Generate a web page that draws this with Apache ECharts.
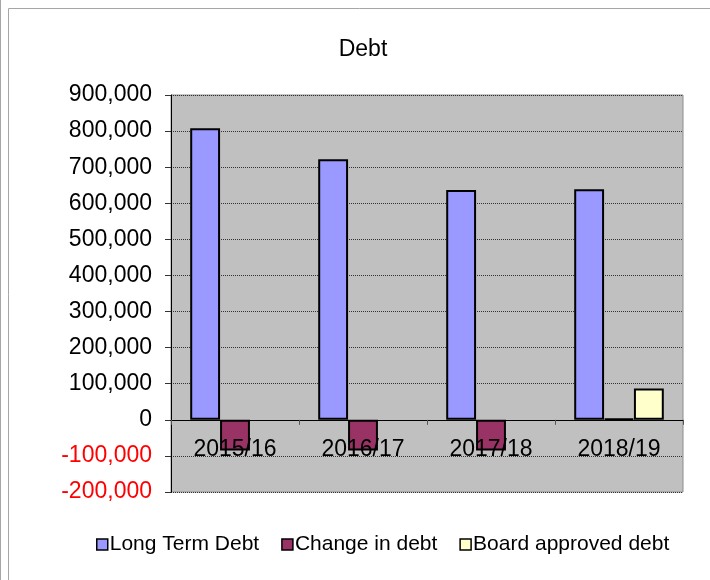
<!DOCTYPE html>
<html>
<head>
<meta charset="utf-8">
<script src="https://cdn.jsdelivr.net/npm/echarts@6/dist/echarts.min.js"></script>
<style>
  html, body { margin: 0; padding: 0; background: #fff; }
  #main { width: 710px; height: 580px; }
</style>
</head>
<body>
<div id="main"></div>
<script>
// data
var years = ['2015/16', '2016/17', '2017/18', '2018/19'];
var longTermDebt = [808000, 722000, 637000, 639000];
var changeInDebt = [-85000, -85000, -85000, 3000];
var boardApproved = [null, null, null, 87000];

var font = '"Liberation Sans", Arial, sans-serif';

var myChart = echarts.init(document.getElementById('main'));

var option = {
    backgroundColor: '#fff',
    animation: false,
    graphic: [
        {
            type: 'rect',
            shape: { x: 8.5, y: 8.5, width: 760, height: 640 },
            style: { fill: 'none', stroke: '#a6a6a6', lineWidth: 1 }
        },
        {
            type: 'line',
            shape: { x1: 0.5, y1: 0, x2: 0.5, y2: 580 },
            style: { stroke: '#a6a6a6', lineWidth: 1 }
        }
    ],
    title: {
        text: 'Debt',
        left: 358,
        top: 33,
        textAlign: 'center',
        textStyle: { fontFamily: font, fontSize: 23, fontWeight: 'normal', color: '#000' }
    },
    legend: {
        bottom: 20,
        left: 91,
        icon: 'rect',
        itemWidth: 11,
        itemHeight: 11,
        itemGap: 22,
        itemStyle: { borderColor: '#000', borderWidth: 1.5 },
        textStyle: { fontFamily: font, fontSize: 21, color: '#000', padding: [0, 0, 0, -3] },
        data: ['Long Term Debt', 'Change in debt', 'Board approved debt']
    },
    grid: {
        left: 171,
        right: 27,
        top: 95,
        bottom: 88,
        show: true,
        backgroundColor: '#c0c0c0',
        borderColor: '#8c8c8c',
        borderWidth: 1
    },
    xAxis: {
        type: 'category',
        data: years,
        z: 10,
        axisLine: { onZero: true, lineStyle: { color: '#000', width: 1 } },
        axisTick: { show: true, length: 5, lineStyle: { color: '#555' } },
        axisLabel: { fontFamily: font, fontSize: 23, color: '#000', margin: -54 },
        splitLine: { show: false }
    },
    yAxis: {
        type: 'value',
        min: -200000,
        max: 900000,
        interval: 100000,
        axisLine: { show: true, lineStyle: { color: '#000', width: 1 } },
        axisTick: { show: true, length: 6, lineStyle: { color: '#333' } },
        axisLabel: {
            fontFamily: font,
            fontSize: 23,
            margin: 19,
            color: function (v) {
                return Number(v) < 0 ? '#ff0000' : '#000';
            },
            formatter: function (v) {
                return v.toLocaleString('en-US');
            }
        },
        splitLine: { show: true, lineStyle: { color: '#333', type: 'dotted', width: 1 } }
    },
    series: [
        {
            name: 'Long Term Debt',
            type: 'bar',
            data: longTermDebt,
            barGap: '0%',
            barCategoryGap: '30%',
            itemStyle: { color: '#9999ff', borderColor: '#000', borderWidth: 2 }
        },
        {
            name: 'Change in debt',
            type: 'bar',
            data: changeInDebt,
            itemStyle: { color: '#993366', borderColor: '#000', borderWidth: 2 }
        },
        {
            name: 'Board approved debt',
            type: 'bar',
            data: boardApproved,
            itemStyle: { color: '#ffffcc', borderColor: '#000', borderWidth: 2 }
        }
    ]
};

myChart.setOption(option);
</script>
</body>
</html>
